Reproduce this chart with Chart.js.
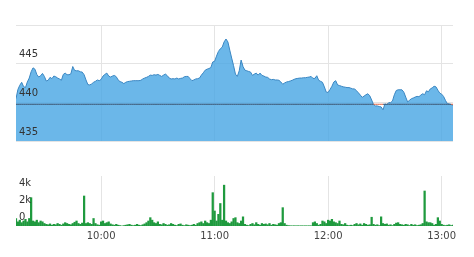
<!DOCTYPE html>
<html>
<head>
<meta charset="utf-8">
<script src="https://cdn.jsdelivr.net/npm/chart.js@4"></script>
<style>
  html, body { margin: 0; padding: 0; background: #fff; }
  #wrap { position: relative; width: 474px; height: 257px; }
  canvas { position: absolute; left: 0; }
  #priceChart { top: 0; }
  #volChart { top: 150px; }
</style>
</head>
<body>
<div id="wrap">
  <canvas id="priceChart" width="474" height="150"></canvas>
  <canvas id="volChart" width="474" height="107"></canvas>
</div>
<script>
// one value per minute, starting 9:15
const startMinute = 9 * 60 + 15;
const prices = [
  440.47, 441.66, 442.21, 442.59, 442.04, 441.91, 442.63, 443.14, 443.95, 444.46,
  444.29, 443.61, 443.27, 443.44, 443.74, 443.35, 442.76, 442.85, 443.23, 443.06,
  443.40, 443.31, 443.14, 443.02, 442.85, 443.61, 443.78, 443.57, 443.57, 443.69,
  444.63, 444.12, 444.08, 444.08, 443.95, 443.91, 443.57, 442.89, 442.29, 442.25,
  442.38, 442.59, 442.72, 442.89, 442.80, 442.97, 443.40, 443.61, 443.78, 443.40,
  443.27, 443.40, 443.48, 443.31, 442.89, 442.68, 442.59, 442.42, 442.59, 442.68,
  442.72, 442.76, 442.80, 442.80, 442.80, 442.80, 442.85, 443.02, 443.14, 443.23,
  443.35, 443.52, 443.48, 443.57, 443.52, 443.61, 443.48, 443.35, 443.52, 443.65,
  443.44, 443.14, 443.02, 443.06, 443.02, 443.14, 443.02, 443.10, 443.14, 443.31,
  443.35, 443.35, 443.06, 442.80, 442.89, 443.02, 443.06, 443.14, 443.52, 443.82,
  444.16, 444.29, 444.37, 444.50, 445.22, 445.31, 445.98, 446.58, 446.92, 447.13,
  447.81, 448.19, 447.81, 446.75, 445.73, 444.75, 443.65, 443.35, 444.08, 445.47,
  444.63, 444.16, 444.08, 443.99, 443.91, 443.48, 443.65, 443.78, 443.52, 443.78,
  443.48, 443.40, 443.27, 443.23, 443.02, 442.93, 442.97, 442.89, 442.89, 442.85,
  442.63, 442.34, 442.51, 442.63, 442.68, 442.76, 442.85, 442.97, 443.06, 443.10,
  443.14, 443.14, 443.18, 443.18, 443.23, 443.27, 443.35, 443.10, 443.10, 443.44,
  442.85, 442.72, 442.59, 442.00, 441.32, 441.28, 441.66, 442.08, 442.63, 442.80,
  442.25, 442.17, 442.08, 442.00, 441.96, 441.91, 441.91, 441.83, 441.74, 441.74,
  441.49, 441.23, 440.94, 440.64, 440.81, 440.98, 441.11, 440.85, 440.30, 439.71,
  439.54, 439.54, 439.45, 439.41, 439.03, 439.79, 439.71, 439.96, 439.96, 440.17,
  440.98, 441.53, 441.62, 441.62, 441.62, 441.32, 440.68, 440.05, 440.26, 440.47,
  440.56, 440.68, 440.77, 440.73, 440.94, 441.11, 440.98, 441.49, 441.36, 441.74,
  441.87, 442.08, 442.00, 441.57, 441.19, 441.06, 440.77, 440.26, 439.83, 439.79,
  439.71, 439.62
];
const volumes = [
  900, 500, 700, 400, 600, 800, 500, 900, 3400, 600,
  500, 700, 400, 600, 500, 300, 200, 150, 250, 100,
  200, 150, 300, 200, 100, 250, 400, 300, 200, 150,
  300, 450, 600, 300, 200, 350, 3600, 300, 400, 300,
  200, 900, 300, 150, 100, 500, 600, 300, 400, 500,
  250, 150, 100, 200, 100, 50, 0, 50, 100, 150,
  200, 100, 50, 100, 200, 100, 50, 150, 250, 400,
  600, 1000, 700, 400, 300, 500, 200, 150, 300, 200,
  100, 150, 300, 200, 100, 50, 200, 250, 100, 50,
  150, 100, 50, 100, 200, 100, 300, 400, 500, 300,
  600, 400, 300, 700, 4000, 1800, 600, 1400, 2700, 700,
  4900, 600, 400, 300, 500, 900, 1000, 400, 300, 600,
  1100, 200, 100, 50, 200, 300, 150, 400, 200, 100,
  300, 200, 250, 150, 300, 100, 200, 150, 100, 300,
  400, 2200, 300, 100, 50, 30, 20, 30, 20, 30,
  20, 30, 20, 30, 20, 30, 20, 400, 500, 300,
  100, 200, 600, 500, 300, 700, 600, 800, 500, 400,
  300, 600, 200, 150, 300, 100, 50, 100, 50, 200,
  300, 150, 250, 100, 300, 200, 100, 150, 1050, 200,
  100, 150, 50, 1100, 300, 200, 250, 100, 150, 50,
  200, 350, 400, 200, 150, 100, 200, 150, 50, 200,
  100, 150, 50, 100, 150, 300, 4200, 500, 400, 400,
  300, 100, 200, 1000, 600, 200, 100, 50, 100, 150,
  50, 100
];
const refPrice = 439.75;
const hourTicks = [45, 105, 165, 225];
const hourLabels = ['10:00', '11:00', '12:00', '13:00'];
const priceTicks = { min: 435, max: 450, step: 5 };
const volTicks = { min: 0, max: 6000, step: 2000 };

Chart.defaults.font.family = "'DejaVu Sans', Verdana, sans-serif";
Chart.defaults.font.size = 10;
Chart.defaults.color = '#333';

const lastIdx = prices.length - 1;
const gridColor = '#e4e4e4';
const noWidth = s => { s.width = 0; };

const xAxis = (showLabels) => ({
  type: 'linear',
  min: 0,
  max: lastIdx,
  offset: false,
  border: { display: false },
  grid: { color: gridColor, drawTicks: false, offset: false },
  afterBuildTicks: s => { s.ticks = hourTicks.map(v => ({ value: v })); },
  ticks: {
    display: showLabels,
    padding: 4,
    color: '#444',
    callback: v => hourLabels[hourTicks.indexOf(v)] || ''
  }
});

new Chart(document.getElementById('priceChart').getContext('2d'), {
  type: 'line',
  data: {
    datasets: [{
      // previous close
      data: prices.map((p, i) => ({ x: i, y: refPrice })),
      borderColor: '#3d5570',
      borderWidth: 1,
      pointRadius: 0,
      order: 0,
      segment: {
        borderColor: ctx => (prices[ctx.p0DataIndex] < refPrice && prices[ctx.p1DataIndex] < refPrice) ? '#e0603c' : undefined
      }
    }, {
      data: prices.map((p, i) => ({ x: i, y: p })),
      borderColor: '#3a86c2',
      borderWidth: 1,
      backgroundColor: 'rgba(70,165,228,0.8)',
      fill: 'start',
      pointRadius: 0,
      tension: 0,
      order: 1
    }]
  },
  options: {
    responsive: false,
    animation: false,
    devicePixelRatio: 1,
    layout: { padding: { left: 16, right: 21, top: 25, bottom: 7 } },
    plugins: { legend: { display: false }, tooltip: { enabled: false } },
    scales: {
      x: xAxis(false),
      y: {
        min: priceTicks.min,
        max: priceTicks.max,
        afterFit: noWidth,
        border: { display: false },
        grid: { color: gridColor, drawTicks: false },
        ticks: {
          z: 1, // labels over the filled area
          stepSize: priceTicks.step,
          mirror: true,
          padding: 3,
          labelOffset: -9,
          callback: v => v === priceTicks.max ? '' : v
        }
      }
    }
  }
});

new Chart(document.getElementById('volChart').getContext('2d'), {
  type: 'bar',
  data: {
    datasets: [{
      data: volumes.map((v, i) => ({ x: i, y: v })),
      backgroundColor: '#1f9a3e',
      barThickness: 1.6
    }]
  },
  options: {
    responsive: false,
    animation: false,
    devicePixelRatio: 1,
    layout: { padding: { left: 16, right: 21, top: 26, bottom: 11 } },
    plugins: { legend: { display: false }, tooltip: { enabled: false } },
    scales: {
      x: Object.assign(xAxis(true), { afterFit: s => { s.height = 20; } }),
      y: {
        min: volTicks.min,
        max: volTicks.max,
        afterFit: noWidth,
        border: { display: false },
        grid: { display: false },
        ticks: {
          z: 1,
          stepSize: volTicks.step,
          mirror: true,
          padding: 3,
          labelOffset: -9,
          callback: v => v === volTicks.max ? '' : (v ? (v / 1000) + 'k' : '0')
        }
      }
    }
  }
});
</script>
</body>
</html>
